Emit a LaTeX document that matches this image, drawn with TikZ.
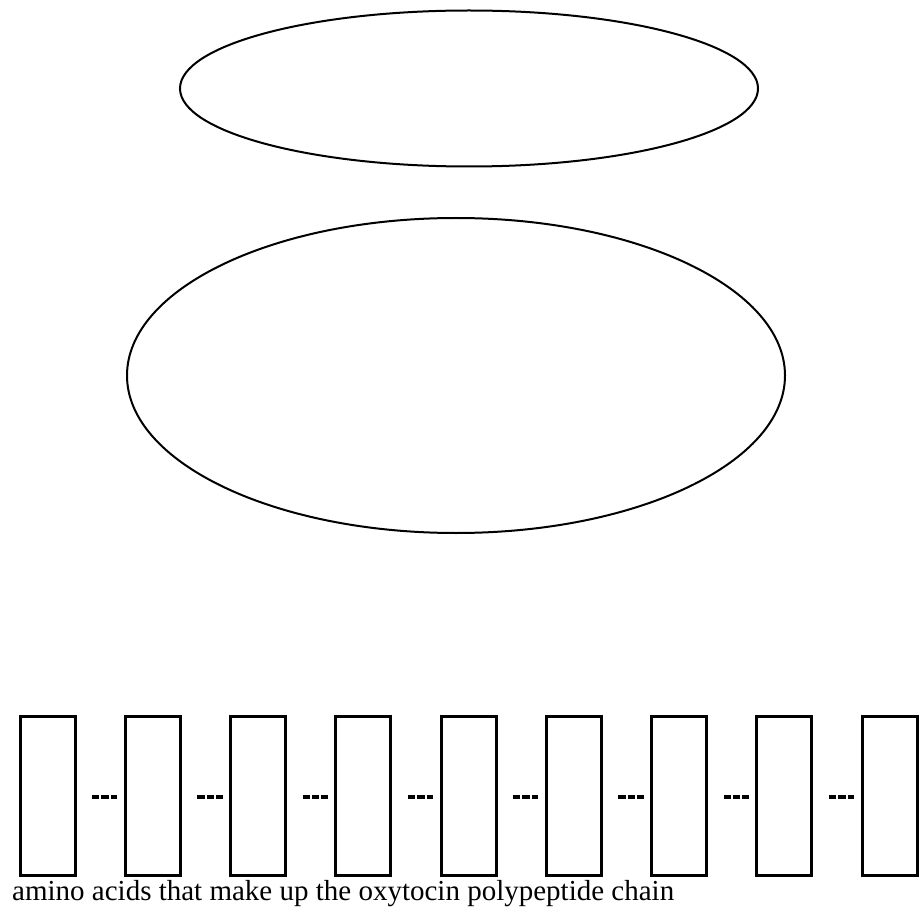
\documentclass[tikz,border=0pt]{standalone}
\usepackage{fontspec}
\setmainfont{Liberation Serif}
\usetikzlibrary{shapes.geometric}
\begin{document}
\begin{tikzpicture}[x=1pt,y=-1pt,
  oval/.style={draw, ellipse, line width=2pt, inner sep=0pt},
  acid/.style={draw, rectangle, line width=3pt, inner sep=0pt, minimum width=55pt, minimum height=159pt},
  bond/.style={line width=3.2pt, dash pattern=on 7.4pt off 2pt, shorten <=15.5pt, shorten >=6.3pt},
  caption/.style={font=\fontsize{29}{32}\selectfont, inner sep=0pt, anchor=base west}]
\useasboundingbox (0,0) rectangle (919,912);
\node[oval, minimum width=578pt, minimum height=156pt] (top) at (469,88.5) {};
\node[oval, minimum width=658pt, minimum height=315pt] (mid) at (456,375.5) {};
\foreach \i in {1,...,9} {
  \node[acid] (b\i) at ({47.5+105.25*(\i-1)},795.5) {};
}
\foreach \i [evaluate=\i as \j using int(\i+1)] in {1,...,8} {
  \draw[bond] ([yshift=-1.5pt]b\i.east) -- ([yshift=-1.5pt]b\j.west);
}
\node[caption] (cap) at (12,900) {amino acids that make up the oxytocin polypeptide chain};
\end{tikzpicture}
\end{document}
